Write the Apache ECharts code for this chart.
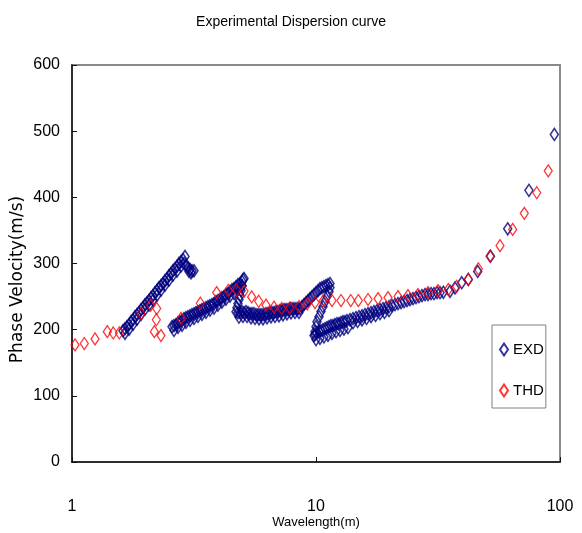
<!DOCTYPE html>
<html>
<head>
<meta charset="utf-8">
<script src="https://cdn.jsdelivr.net/npm/echarts@6/dist/echarts.min.js"></script>
<style>
html,body{margin:0;padding:0;background:#fff;}
#chart{width:582px;height:533px;}
</style>
</head>
<body>
<div id="chart"></div>
<script>
// ---- Data ----
var titleText = 'Experimental Dispersion curve';
var xAxisName = 'Wavelength(m)';
var yAxisName = 'Phase Velocity(m/s)';
var seriesNames = ['EXD', 'THD'];
var yTicks = [0, 100, 200, 300, 400, 500, 600];
var xTicks = [1, 10, 100];

// EXD: experimental dispersion points (wavelength m, phase velocity m/s)
var exdWavelength = [
  // first rising branch
  1.618,1.649,1.680,1.713,1.745,1.778,1.812,1.846,1.881,1.918,1.954,1.992,2.030,2.068,2.108,2.148,
  2.189,2.230,2.273,2.316,2.360,2.405,2.451,2.497,2.545,2.593,2.643,2.693,2.744,2.796,2.850,2.905,
  1.649,1.713,1.778,1.846,1.918,1.992,2.068,2.148,2.230,2.316,2.405,2.497,2.593,2.693,2.796,2.880,
  // cluster after first peak
  2.932,2.988,3.045,3.103,3.074,3.016,3.162,
  // second rising branch
  2.570,2.618,2.669,2.720,2.771,2.824,2.877,2.932,2.988,3.045,3.103,3.162,3.222,3.283,3.346,3.410,
  3.474,3.541,3.608,3.677,3.748,3.819,3.891,3.965,4.041,4.118,4.196,4.276,4.357,4.441,4.525,4.611,
  4.700,4.788,4.881,4.974,5.021,5.069,
  2.618,2.720,2.824,2.932,3.045,3.162,3.283,3.410,3.541,3.677,3.819,3.965,4.118,4.276,4.441,4.611,
  4.788,4.974,
  // drop after second peak
  4.974,4.928,4.881,4.834,4.788,4.742,4.700,
  // flat section
  4.788,4.881,4.974,5.069,5.166,5.264,5.364,5.467,5.571,5.677,5.785,5.895,6.007,6.122,6.239,6.357,
  6.479,6.602,6.728,6.856,6.987,7.120,7.255,7.394,7.534,7.678,7.825,7.973,8.125,8.280,8.438,
  4.834,5.021,5.216,5.415,5.623,5.840,6.064,6.298,6.540,6.792,7.053,7.324,7.606,7.898,8.202,8.517,
  // third rising branch
  8.600,8.764,8.931,9.101,9.275,9.450,9.630,9.813,10.00,10.19,10.38,10.58,10.78,10.99,11.20,11.41,
  // drop near 10 m
  11.41,11.31,11.10,10.89,10.68,10.48,10.29,10.09,10.00,9.906,9.813,
  // slow rising branch
  9.906,10.09,10.29,10.48,10.68,10.89,11.10,11.31,11.52,11.74,11.96,12.19,12.42,12.66,12.90,13.15,
  13.40,13.78,14.18,14.59,15.01,15.44,15.88,16.34,16.81,17.29,17.79,18.30,18.82,19.36,19.92,20.49,
  21.08,21.68,22.31,22.95,23.61,24.28,24.98,25.70,26.43,27.19,27.98,28.78,29.61,30.46,31.34,32.23,
  10.00,10.38,10.78,11.20,11.63,12.08,12.54,13.02,13.52,14.18,14.80,15.44,16.11,16.81,17.54,18.30,
  19.09,19.92,
  // long wavelengths
  33.25,35.42,37.13,39.55,42.10,46.00,51.90,61.05,74.60,94.80
];
var exdVelocity = [
  198.5,201.5,204.5,207.6,212,215,219.7,222.7,225.8,230.3,233.3,237.9,241,244,248.5,251.5,
  256,259,263.6,266.7,269.7,274.2,277.3,281.8,284.8,289.4,292.4,295.5,300,303,306,310.6,
  194.5,200.6,208,215.7,223.3,230.9,237,244.5,252,259.7,267.2,274.8,282.4,288.5,296,300,
  297,294,291,289,286,288,289,
  204.5,206,207.6,210.6,212,213.6,216.7,218.2,219.7,221,222.7,224,225.8,227,228.8,230.3,
  231.8,233.3,234.8,236.4,237.9,239.4,242.4,244,245.5,248.5,250,253,254.5,257.6,260.6,262,
  265,268,269.7,272.7,275.8,277.3,
  199,203.6,206.6,211.2,214,217,220,223.3,226.3,229.4,232.4,237,241.5,246,250.6,255,
  261,265.7,
  266.7,259,251.5,245.5,239.4,233.3,227,
  225.8,225.8,227.3,225.8,227.3,225.8,224.2,224.2,224.2,222.7,222.7,222.7,222.7,222.7,224.2,224.2,
  225.8,225.8,225.8,227.3,227.3,228.8,228.8,230.3,230.3,230.3,231.8,231.8,231.8,231.8,231.8,
  219,220,220,218,217,216.5,216.5,218,219.5,220,221,222.5,224,225.5,226,226,
  231.8,234.8,237.9,241,244,247,250,253,256,259,262,263.6,265,266.7,268,269.7,
  263.6,257.6,250,242.4,234.8,227.3,219.7,212,204.5,197,191,
  192.4,195.5,197,198.5,200,201.5,203,204.5,206,206,207.6,209,209,210.6,212,212,
  213.6,215,216.7,218.2,219.7,221,222.7,224.2,225.8,227.3,228.8,230.3,231.8,233.3,234.8,236.4,
  237.9,239.4,241,242.4,244,245.5,247,248.5,250,251.5,253,253,254.5,254.5,256,256,
  185,187,189,191.5,194.5,197,199,201,203,210.7,212.5,215,217,219.8,221.5,224.3,
  226,228.8,
  256.5,258,263,271,276,288,311,352.5,410.6,495
];

// THD: theoretical dispersion points
var thdWavelength = [
  1.029,1.123,1.243,1.395,1.476,1.563,1.918,2.101,2.224,2.216,2.175,2.316,2.797,3.357,3.917,4.371,
  4.732,5.070,5.450,5.824,6.240,6.730,7.240,7.820,8.520,9.210,9.910,10.68,11.63,12.66,13.88,14.91,
  16.34,17.96,19.73,21.68,23.82,26.17,28.78,31.63,34.85,37.72,42.10,46.27,51.66,56.77,63.99,71.40,
  80.30,89.50
];
var thdVelocity = [
  177,179,186,197,195,195,224,237,232,215,197,191,217,240,256,259.5,
  259.5,258,249.5,243,237,234,232,233,235,239,241,243,244,244,244,244,
  245.5,247,248.5,250,251.5,253,256,259,260.6,265.6,275.8,292,311,327,351.5,375.8,
  407,440
];

function pairs(xs, ys) {
  var out = [];
  for (var i = 0; i < xs.length; i++) out.push([xs[i], ys[i]]);
  return out;
}

var font = '"Liberation Sans", Arial, sans-serif';
var navy = '#000080';
var red = '#ff0000';

var chart = echarts.init(document.getElementById('chart'), null, {renderer: 'canvas'});
chart.setOption({
  animation: false,
  backgroundColor: '#ffffff',
  title: {
    text: titleText,
    left: 'center',
    top: 10,
    textStyle: {fontFamily: font, fontSize: 14, fontWeight: 'normal', color: '#000'}
  },
  legend: {
    orient: 'vertical',
    left: 492,
    top: 325,
    padding: [17, 2, 10, 7],
    itemWidth: 8,
    itemHeight: 12,
    itemGap: 26,
    borderColor: '#808080',
    borderWidth: 1,
    backgroundColor: '#fff',
    textStyle: {fontFamily: font, fontSize: 15, color: '#000'},
    data: seriesNames
  },
  grid: {
    left: 72, right: 22, top: 65, bottom: 71,
    show: true,
    borderColor: '#8a8a8a',
    borderWidth: 2,
    backgroundColor: 'transparent',
    containLabel: false,
    outerBoundsMode: 'none'
  },
  xAxis: {
    type: 'log',
    logBase: 10,
    min: xTicks[0],
    max: xTicks[xTicks.length - 1],
    name: xAxisName,
    nameLocation: 'middle',
    nameGap: 54,
    nameMoveOverlap: false,
    nameTextStyle: {fontFamily: font, fontSize: 13, color: '#000'},
    axisLine: {show: true, onZero: false, lineStyle: {color: '#111', width: 1.5}},
    axisTick: {show: true, inside: true, length: 5, lineStyle: {color: '#111'}},
    minorTick: {show: false},
    axisLabel: {margin: 37, fontFamily: font, fontSize: 16, color: '#000'},
    splitLine: {show: false}
  },
  yAxis: {
    type: 'value',
    min: yTicks[0],
    max: yTicks[yTicks.length - 1],
    interval: 100,
    name: yAxisName,
    nameLocation: 'middle',
    nameGap: 46,
    nameMoveOverlap: false,
    nameRotate: 90,
    nameTextStyle: {fontFamily: '"DejaVu Sans", sans-serif', fontSize: 17, color: '#000', padding: [0, 32, 0, 0]},
    axisLine: {show: true, lineStyle: {color: '#111', width: 1.5}},
    axisTick: {show: true, inside: true, length: 5, lineStyle: {color: '#111'}},
    axisLabel: {margin: 12, fontFamily: font, fontSize: 16, color: '#000'},
    splitLine: {show: false}
  },
  series: [
    {
      name: seriesNames[0],
      type: 'scatter',
      symbol: 'diamond',
      symbolSize: [8, 12],
      itemStyle: {color: 'rgba(255,255,255,0)', borderColor: navy, borderWidth: 1.6},
      z: 3,
      data: pairs(exdWavelength, exdVelocity)
    },
    {
      name: seriesNames[1],
      type: 'scatter',
      symbol: 'diamond',
      symbolSize: [8, 12],
      itemStyle: {color: 'rgba(255,255,255,0)', borderColor: red, borderWidth: 1.3},
      z: 4,
      data: pairs(thdWavelength, thdVelocity)
    }
  ]
});
</script>
</body>
</html>
